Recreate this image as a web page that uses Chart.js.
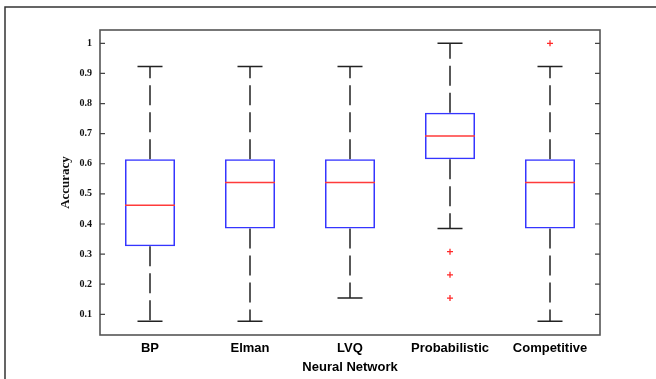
<!DOCTYPE html>
<html>
<head>
<meta charset="utf-8">
<script src="https://cdn.jsdelivr.net/npm/chart.js@4"></script>
<style>
  html, body { margin: 0; padding: 0; background: #fff; }
  #wrap { position: relative; width: 656px; height: 379px; }
</style>
</head>
<body>
<div id="wrap"><canvas id="boxChart" width="656" height="379"></canvas></div>
<script>
// values
const categories = ['BP', 'Elman', 'LVQ', 'Probabilistic', 'Competitive'];
const whiskerLow = [0.077, 0.077, 0.154, 0.385, 0.077];
const q1 = [0.326, 0.385, 0.385, 0.615, 0.385];
const medians = [0.462, 0.538, 0.538, 0.692, 0.538];
const q3 = [0.615, 0.615, 0.615, 0.769, 0.615];
const whiskerHigh = [0.923, 0.923, 0.923, 1.0, 0.923];
const outlierCats = ['Probabilistic', 'Probabilistic', 'Probabilistic', 'Competitive'];
const outlierVals = [0.308, 0.231, 0.154, 1.0];
const yTicks = [0.1, 0.2, 0.3, 0.4, 0.5, 0.6, 0.7, 0.8, 0.9, 1];

// whiskers, caps, medians, ticks and frames drawn through the chart scales
const boxExtras = {
    id: 'boxExtras',
    beforeDatasetsDraw(chart) {
        const ctx = chart.ctx;
        const x = chart.scales.x;
        const y = chart.scales.y;
        const area = chart.chartArea;
        ctx.save();

        // outer figure frame (top + left only)
        ctx.strokeStyle = '#333';
        ctx.lineWidth = 1.5;
        ctx.beginPath();
        ctx.moveTo(5, 379);
        ctx.lineTo(5, 7);
        ctx.lineTo(656, 7);
        ctx.stroke();

        // whiskers
        ctx.strokeStyle = '#222';
        ctx.lineWidth = 1.5;
        categories.forEach((c, i) => {
            const cx = x.getPixelForValue(i);
            ctx.setLineDash([20, 7]);
            ctx.beginPath();
            ctx.moveTo(cx, y.getPixelForValue(q3[i]));
            ctx.lineTo(cx, y.getPixelForValue(whiskerHigh[i]));
            ctx.moveTo(cx, y.getPixelForValue(q1[i]));
            ctx.lineTo(cx, y.getPixelForValue(whiskerLow[i]));
            ctx.stroke();
            ctx.setLineDash([]);
            ctx.beginPath();
            const half = 12.5;
            const yh = y.getPixelForValue(whiskerHigh[i]);
            const yl = y.getPixelForValue(whiskerLow[i]);
            ctx.moveTo(cx - half, yh); ctx.lineTo(cx + half, yh);
            ctx.moveTo(cx - half, yl); ctx.lineTo(cx + half, yl);
            ctx.stroke();
        });

        // plot frame and inward ticks
        ctx.strokeStyle = '#555';
        ctx.lineWidth = 1.6;
        ctx.strokeRect(area.left, area.top, area.right - area.left, area.bottom - area.top);
        ctx.lineWidth = 1.2;
        ctx.strokeStyle = '#444';
        ctx.beginPath();
        yTicks.forEach(v => {
            const py = y.getPixelForValue(v);
            ctx.moveTo(area.left, py); ctx.lineTo(area.left + 5, py);
            ctx.moveTo(area.right, py); ctx.lineTo(area.right - 5, py);
        });
        ctx.stroke();
        ctx.restore();
    },
    afterDatasetsDraw(chart) {
        const ctx = chart.ctx;
        const x = chart.scales.x;
        const y = chart.scales.y;
        const bars = chart.getDatasetMeta(0).data;
        ctx.save();
        ctx.strokeStyle = '#ff3b3b';
        ctx.lineWidth = 1.5;
        ctx.beginPath();
        categories.forEach((c, i) => {
            const half = bars[i].width / 2;
            const cx = x.getPixelForValue(i);
            const py = y.getPixelForValue(medians[i]);
            ctx.moveTo(cx - half, py);
            ctx.lineTo(cx + half, py);
        });
        ctx.stroke();
        ctx.restore();
    }
};

const ctx = document.getElementById('boxChart').getContext('2d');
new Chart(ctx, {
    type: 'bar',
    data: {
        labels: categories,
        datasets: [
            {
                label: 'box',
                data: categories.map((c, i) => [q1[i], q3[i]]),
                backgroundColor: 'rgba(0,0,0,0)',
                borderColor: '#3535ff',
                borderWidth: 1.5,
                borderSkipped: false,
                barPercentage: 0.5,
                categoryPercentage: 1.0
            },
            {
                type: 'line',
                label: 'outliers',
                data: outlierCats.map((c, i) => ({ x: c, y: outlierVals[i] })),
                showLine: false,
                pointStyle: 'cross',
                pointRadius: 3,
                pointBorderWidth: 1.3,
                pointBorderColor: '#ff2a2a',
                pointBackgroundColor: '#ff2a2a'
            }
        ]
    },
    options: {
        responsive: false,
        animation: false,
        layout: { padding: { left: 0, top: 30, right: 56, bottom: 0 } },
        plugins: {
            legend: { display: false },
            tooltip: { enabled: false }
        },
        scales: {
            x: {
                offset: true,
                grid: { display: false, drawTicks: false },
                border: { display: false },
                ticks: {
                    padding: 6,
                    color: '#000',
                    font: { family: '"Liberation Sans", Arial, sans-serif', size: 13, weight: 'bold' }
                },
                title: {
                    display: true,
                    text: 'Neural Network',
                    color: '#000',
                    padding: { top: 0, bottom: 4 },
                    font: { family: '"Liberation Sans", Arial, sans-serif', size: 13, weight: 'bold' }
                },
                afterFit: function (scale) { scale.height = 44; }
            },
            y: {
                min: 0.0313,
                max: 1.0442,
                grid: { display: false, drawTicks: false },
                border: { display: false },
                afterBuildTicks: function (scale) {
                    scale.ticks = yTicks.map(v => ({ value: v }));
                },
                ticks: {
                    padding: 8,
                    color: '#111',
                    font: { family: '"Liberation Serif", "Times New Roman", serif', size: 10, weight: 'bold' },
                    callback: function (value) { return String(Math.round(value * 10) / 10); }
                },
                title: {
                    display: true,
                    text: 'Accuracy',
                    color: '#111',
                    padding: { top: 58, bottom: 0 },
                    font: { family: '"Liberation Serif", "Times New Roman", serif', size: 13, weight: 'bold' }
                },
                afterFit: function (scale) { scale.width = 100; }
            }
        }
    },
    plugins: [boxExtras]
});
</script>
</body>
</html>
